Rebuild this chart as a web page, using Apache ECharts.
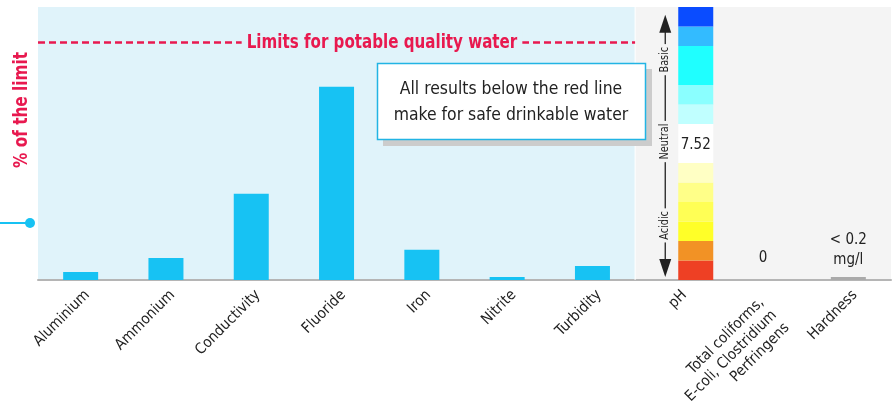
<!DOCTYPE html>
<html><head><meta charset="utf-8">
<script src="https://cdn.jsdelivr.net/npm/echarts@6/dist/echarts.min.js"></script>
<style>html,body{margin:0;padding:0;background:#fff}#c{width:893px;height:403px}</style>
</head><body><div id="c"></div>
<script>
// ---- data ----
const categories = ['Aluminium','Ammonium','Conductivity','Fluoride','Iron','Nitrite','Turbidity','pH','Total coliforms,\nE-coli, Clostridium\nPerfringens','Hardness'];
const percentOfLimit = [3.4, 9.3, 36.3, 81.4, 12.7, 1.3, 5.9, null, 0, 1.3];
const valueLabels = [null, null, null, null, null, null, null, null, '0', '< 0.2\nmg/l'];
const limitValue = 100;
const limitText = 'Limits for potable quality water';
const calloutText = 'All results below the red line\nmake for safe drinkable water';
const yAxisTitle = '% of the limit';
const markerLevel = 24;
const phValue = 7.52;
const phBandEdges = [0, 1, 2, 3, 4, 5, 6, 8, 9, 10, 12, 13, 14];
const phScaleWords = ['Basic', 'Neutral', 'Acidic'];
const phScaleWordLevels = [11.3, 7.1, 2.8];

// ---- styles ----
const FONT = "'Liberation Sans Narrow','DejaVu Sans Condensed','Arial Narrow',sans-serif";
const RED = '#e8194f';
const BAR = '#17c2f3';
const BLUE_BG = '#e0f3fa';
const GRAY_BG = '#f4f4f4';
const phBandColors = ['#ee4024','#f29225','#ffff28','#ffff55','#ffff88','#ffffc4','#ffffff','#c0ffff','#8affff','#1fffff','#33bbff','#0a4cff'];
const areaColors = categories.map((c, i) => i < 7 ? BLUE_BG : GRAY_BG);

const chart = echarts.init(document.getElementById('c'), null, {renderer: 'canvas'});

const barData = percentOfLimit.map((v, i) => {
  if (v === null) return '-';
  const item = {value: v};
  if (i === 9) item.itemStyle = {color: '#aaaaaa'};
  if (valueLabels[i]) {
    item.label = {show: true, position: 'top', formatter: valueLabels[i], distance: i === 8 ? 12 : 7,
      fontFamily: FONT, fontSize: 15, lineHeight: 20, color: '#222'};
  }
  return item;
});

const bandData = phBandColors.map((c, i) => ['pH', phBandEdges[i], phBandEdges[i + 1]]);

const labelFont = {fontFamily: FONT, fontSize: 15, lineHeight: 19, color: '#222'};

chart.setOption({
  animation: false,
  grid: {left: 38, right: 2, top: 7, bottom: 123, containLabel: false, outerBoundsMode: 'none'},
  xAxis: [{
    type: 'category', data: categories,
    axisLine: {lineStyle: {color: '#b5b5b5', width: 2}},
    axisTick: {length: 6, lineStyle: {color: '#b5b5b5', width: 1.5}},
    axisLabel: Object.assign({rotate: 45, interval: 0, margin: 6, align: 'right', verticalAlign: 'top',
      formatter: function (value) {
        if (value.indexOf('\n') >= 0) return value.split('\n').map(s => '{m|' + s + '}').join('\n');
        return value;
      },
      rich: {
        m: Object.assign({}, labelFont, {padding: [0, 11, 0, 0], lineHeight: 18})
      }}, labelFont),
    splitArea: {show: true, interval: 0, areaStyle: {color: areaColors}},
    splitLine: {show: false}
  }],
  yAxis: [
    {type: 'value', min: 0, max: 115, show: false},
    {type: 'value', min: 0, max: 14, show: false}
  ],
  series: [
    {type: 'bar', data: barData, barWidth: 35, itemStyle: {color: BAR}, z: 3},
    {type: 'custom', xAxisIndex: 0, yAxisIndex: 1, data: bandData, z: 3,
     renderItem: function (params, api) {
       const lo = api.coord([api.value(0), api.value(1)]);
       const hi = api.coord([api.value(0), api.value(2)]);
       const x0 = lo[0] + 0.5, w = 35;
       const children = [{type: 'rect', shape: {x: x0, y: hi[1], width: w, height: lo[1] - hi[1]},
         style: {fill: phBandColors[params.dataIndex]}}];
       if (api.value(1) <= phValue && api.value(2) >= phValue) {
         children.push({type: 'text', x: x0 + w / 2, y: (lo[1] + hi[1]) / 2 + 2,
           style: {text: phValue.toFixed(2), fontFamily: FONT, fontSize: 15, fill: '#222', align: 'center', verticalAlign: 'middle'}});
       }
       return {type: 'group', children: children};
     }}
  ]
});

// ---- annotations positioned through the axes ----
const px = v => chart.convertToPixel({xAxisIndex: 0}, v);
const pyPct = v => chart.convertToPixel({yAxisIndex: 0}, v);
const pyPH = v => chart.convertToPixel({yAxisIndex: 1}, v);
const catW = px(categories[1]) - px(categories[0]);
const blueLeft = px(categories[0]) - catW / 2;
const blueRight = px(categories[6]) + catW / 2;
const limitY = pyPct(limitValue);
const arrowX = px('pH') - 12.5;
const topTip = pyPH(13.6), botTip = pyPH(0.15);
const ARW = 18;

const g = [];
// separator between regions
g.push({type: 'line', shape: {x1: blueRight, y1: pyPct(115), x2: blueRight, y2: pyPct(0)}, style: {stroke: '#ffffff', lineWidth: 1}, z: 2});
// limit line + text
g.push({type: 'line', shape: {x1: blueLeft, y1: limitY, x2: blueRight, y2: limitY},
  style: {stroke: RED, lineWidth: 2.5, lineDash: [7, 4]}, z: 4});
g.push({type: 'text', x: 382, y: limitY, scaleX: 0.84, z: 5,
  style: {text: limitText, fontFamily: FONT, fontWeight: 'bold', fontSize: 20, fill: RED,
    align: 'center', verticalAlign: 'middle', backgroundColor: BLUE_BG, padding: [2, 6]}});
// y axis title
g.push({type: 'text', x: 22, y: 110, rotation: Math.PI / 2, scaleX: 0.85, z: 5,
  style: {text: yAxisTitle, fontFamily: FONT, fontWeight: 'bold', fontSize: 20, fill: RED, align: 'center', verticalAlign: 'middle'}});
// marker
const mY = pyPct(markerLevel);
g.push({type: 'line', shape: {x1: 0, y1: mY, x2: 30, y2: mY}, style: {stroke: BAR, lineWidth: 2}, z: 5});
g.push({type: 'circle', shape: {cx: 30, cy: mY, r: 5}, style: {fill: BAR}, z: 5});
// callout
g.push({type: 'rect', shape: {x: 383, y: 69, width: 269, height: 77}, style: {fill: '#cccccc'}, z: 6});
g.push({type: 'rect', shape: {x: 377.5, y: 63.5, width: 268, height: 76}, style: {fill: '#ffffff', stroke: '#22b4e4', lineWidth: 1.5}, z: 7});
g.push({type: 'text', x: 511, y: 102, scaleX: 0.94, z: 8,
  style: {text: calloutText, fontFamily: FONT, fontSize: 18.5, lineHeight: 26, fill: '#222', align: 'center', verticalAlign: 'middle'}});
// pH scale arrow
g.push({type: 'line', shape: {x1: arrowX, y1: topTip + ARW - 2, x2: arrowX, y2: botTip - ARW + 2}, style: {stroke: '#222', lineWidth: 1.3}, z: 5});
g.push({type: 'polygon', shape: {points: [[arrowX, topTip], [arrowX - 6, topTip + ARW], [arrowX + 6, topTip + ARW]]}, style: {fill: '#222'}, z: 5});
g.push({type: 'polygon', shape: {points: [[arrowX, botTip], [arrowX - 6, botTip - ARW], [arrowX + 6, botTip - ARW]]}, style: {fill: '#222'}, z: 5});
phScaleWords.forEach((w, i) => {
  g.push({type: 'text', x: arrowX, y: pyPH(phScaleWordLevels[i]), rotation: Math.PI / 2, scaleX: 0.9, z: 6,
    style: {text: w, fontFamily: FONT, fontSize: 12, fill: '#222', align: 'center', verticalAlign: 'middle',
      backgroundColor: GRAY_BG, padding: [1, 3]}});
});
chart.setOption({graphic: g});
</script>
</body></html>
